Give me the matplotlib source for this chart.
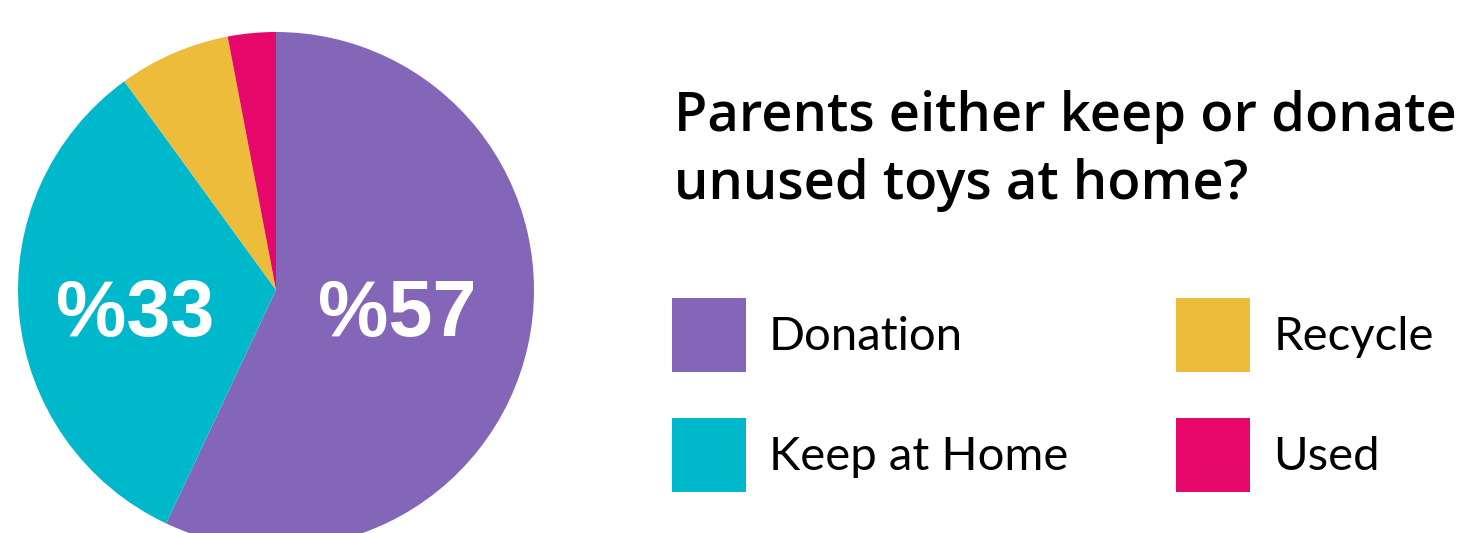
import matplotlib
matplotlib.use('Agg')
import matplotlib.pyplot as plt
from matplotlib.patches import Patch

# data
labels = ['Donation', 'Keep at Home', 'Recycle', 'Used']
values = [57, 33, 7, 3]
colors = ['#8466B8', '#00B8CB', '#EEBC3B', '#E5076A']
shown_labels = {'Donation': '%57', 'Keep at Home': '%33'}
title_lines = ['Parents either keep or donate', 'unused toys at home?']

W, H = 1466, 533
fig = plt.figure(figsize=(W / 100, H / 100), dpi=100)

# pie axes, center at (276, 290) px from top, radius 258 px
cx, cy, r = 276, 290, 258
ax = fig.add_axes([(cx - r) / W, (H - cy - r) / H, 2 * r / W, 2 * r / H])
ax.pie(values, colors=colors, startangle=90, counterclock=False,
       radius=1, wedgeprops=dict(linewidth=0))
ax.set_xlim(-1, 1)
ax.set_ylim(-1, 1)
ax.set_aspect('auto')
ax.axis('off')

# percentage labels
label_pos = {'Donation': (397, 336), 'Keep at Home': (135, 336)}
for name, txt in shown_labels.items():
    px, py = label_pos[name]
    fig.text(px / W, 1 - py / H, txt, ha='center', va='baseline', color='white',
             fontsize=57, fontweight='bold', family='Liberation Sans')

# title, fitted to the width of the reference block
renderer = fig.canvas.get_renderer()
title_size = 38
t = fig.text(0, 0, title_lines[0], fontsize=title_size, fontweight='semibold',
             family='Open Sans')
tw = t.get_window_extent(renderer).width
t.remove()
title_size = title_size * 782 / tw
for line, base in zip(title_lines, [131, 199]):
    fig.text(674 / W, 1 - base / H, line, ha='left', va='baseline',
             fontsize=title_size, fontweight='semibold', family='Open Sans',
             color='black')

# legend
handles = [Patch(facecolor=c, edgecolor='none') for c in colors]
fs = 34
fpx = fs * 100 / 72
leg = fig.legend(handles, labels, ncol=2, frameon=False,
                 loc='upper left', bbox_to_anchor=(672 / W, 1 - 298 / H),
                 borderaxespad=0, borderpad=0,
                 prop=dict(family='Lato', size=fs),
                 handlelength=74 / fpx, handleheight=(74 / fpx - 0.245) / 0.65,
                 handletextpad=23 / fpx, labelspacing=46 / fpx,
                 columnspacing=108 / fpx)

fig.savefig('out.png', dpi=100)
